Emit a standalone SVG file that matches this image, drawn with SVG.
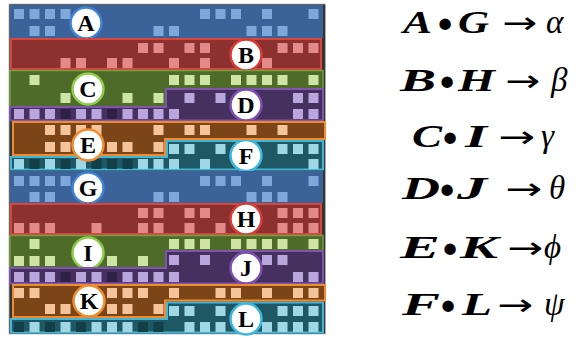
<svg xmlns="http://www.w3.org/2000/svg" width="582" height="338" viewBox="0 0 582 338">
  <style>
    .frame{fill:#333;stroke:#b5b5b5;stroke-width:0.8}
    .band-a{fill:#3b6299}
    .sq-a{fill:#7ea7da}
    .band-b{fill:#8c3030;stroke:#d6463f;stroke-width:2}
    .sq-b{fill:#e3898a}
    .band-c{fill:#4f6b29;stroke:#76a03f;stroke-width:1.5}
    .sq-c{fill:#cde4a5}
    .band-d{fill:#46305f;stroke:#7e56ab;stroke-width:2}
    .sq-d{fill:#b9a6dc}
    .sq-d2{fill:#2f2046}
    .band-e{fill:#7b4518;stroke:#f08b30;stroke-width:2}
    .sq-e{fill:#f6c49a}
    .band-f{fill:#1f5865;stroke:#42b6d6;stroke-width:2}
    .sq-f{fill:#a0d7e5}
    .sq-f2{fill:#133f49}
    .lbl circle{fill:#fff;stroke-width:2.5}
    .lbl text{font-family:"Liberation Serif","Times New Roman",serif;font-weight:bold;font-size:24px;fill:#000;text-anchor:middle}
    .ca{stroke:#3f82d4}.cb{stroke:#d93c36}.cc{stroke:#8ccc4a}.cd{stroke:#7d4fb0}.ce{stroke:#f08b30}.cf{stroke:#3db8dc}
    .eq text{font-family:"Liberation Serif","DejaVu Serif",serif;fill:#000}
    .cap{font-weight:bold;font-style:italic;font-size:31px}
    .dot{font-weight:bold;font-size:42px;text-anchor:middle}
    .eq .arr{font-family:"DejaVu Sans",sans-serif;font-size:30px}
    .gr{font-style:italic;font-size:33px}
  </style>

  <!-- panel backing -->
  <rect class="frame" x="9" y="4" width="316.5" height="330"/>

  <!-- upper set of bands -->
  <g id="A">
    <rect class="band-a" x="10" y="5" width="313" height="33"/>
    <g class="sq-a">
      <rect x="14" y="9" width="10" height="10"/><rect x="29.5" y="9" width="10" height="10"/><rect x="45" y="9" width="10" height="10"/><rect x="60.5" y="9" width="10" height="10"/><rect x="200" y="9" width="10" height="10"/><rect x="215.5" y="9" width="10" height="10"/><rect x="231" y="9" width="10" height="10"/><rect x="262" y="9" width="10" height="10"/><rect x="308.5" y="9" width="10" height="10"/>
      <rect x="29.5" y="26" width="10" height="10"/><rect x="45" y="26" width="10" height="10"/><rect x="153.5" y="26" width="10" height="10"/><rect x="169" y="26" width="10" height="10"/><rect x="246.5" y="26" width="10" height="10"/><rect x="262" y="26" width="10" height="10"/><rect x="277.5" y="26" width="10" height="10"/>
    </g>
    <g class="lbl"><circle class="ca" cx="86" cy="23" r="15.5"/><text x="86" y="31">A</text></g>
  </g>

  <g id="B">
    <rect class="band-b" x="11" y="39" width="310" height="30"/>
    <g class="sq-b">
      <rect x="138" y="43" width="10" height="10"/><rect x="153.5" y="43" width="10" height="10"/><rect x="184.5" y="43" width="10" height="10"/><rect x="200" y="43" width="10" height="10"/><rect x="277.5" y="43" width="10" height="10"/><rect x="293" y="43" width="10" height="10"/><rect x="308.5" y="43" width="10" height="10"/>
      <rect x="60.5" y="58" width="10" height="10"/><rect x="76" y="58" width="10" height="10"/><rect x="107" y="58" width="10" height="10"/><rect x="122.5" y="58" width="10" height="10"/><rect x="169" y="58" width="10" height="10"/><rect x="200" y="58" width="10" height="10"/><rect x="262" y="58" width="10" height="10"/>
    </g>
    <g class="lbl"><circle class="cb" cx="246" cy="55" r="15.5"/><text x="246" y="63">B</text></g>
  </g>

  <g id="C">
    <path class="band-c" d="M10,70.5 H323 V89 H166 V107 H10 Z"/>
    <g class="sq-c">
      <rect x="29.5" y="75" width="10" height="10"/><rect x="169" y="75" width="10" height="10"/><rect x="184.5" y="75" width="10" height="10"/><rect x="200" y="75" width="10" height="10"/><rect x="231" y="75" width="10" height="10"/><rect x="246.5" y="75" width="10" height="10"/><rect x="262" y="75" width="10" height="10"/><rect x="277.5" y="75" width="10" height="10"/><rect x="308.5" y="75" width="10" height="10"/>
      <rect x="60.5" y="93" width="10" height="10"/><rect x="122.5" y="93" width="10" height="10"/><rect x="153.5" y="93" width="10" height="10"/>
    </g>
    <g class="lbl"><circle class="cc" cx="88" cy="89" r="15.5"/><text x="88" y="97">C</text></g>
  </g>

  <g id="D">
    <path class="band-d" d="M166,89 H323 V120.5 H10 V107 H166 Z"/>
    <g class="sq-d">
      <rect x="184.5" y="93" width="10" height="10"/><rect x="215.5" y="93" width="10" height="10"/><rect x="293" y="93" width="10" height="10"/><rect x="308.5" y="93" width="10" height="10"/>
      <rect x="14" y="109" width="10" height="10"/><rect x="29.5" y="109" width="10" height="10"/><rect x="45" y="109" width="10" height="10"/><rect x="76" y="109" width="10" height="10"/><rect x="91.5" y="109" width="10" height="10"/><rect x="122.5" y="109" width="10" height="10"/><rect x="138" y="109" width="10" height="10"/><rect x="153.5" y="109" width="10" height="10"/><rect x="169" y="109" width="10" height="10"/><rect x="293" y="109" width="10" height="10"/><rect x="308.5" y="109" width="10" height="10"/>
    </g>
    <g class="sq-d2">
      <rect x="60.5" y="109" width="10" height="10"/><rect x="107" y="109" width="10" height="10"/>
    </g>
    <g class="lbl"><circle class="cd" cx="246" cy="105" r="15.5"/><text x="246" y="113">D</text></g>
  </g>

  <g id="F">
    <path class="band-f" d="M167,141 H323 V169.5 H11 V157 H167 Z"/>
    <g class="sq-f">
      <rect x="169" y="144" width="10" height="10"/><rect x="184.5" y="144" width="10" height="10"/><rect x="215.5" y="144" width="10" height="10"/><rect x="277.5" y="144" width="10" height="10"/><rect x="293" y="144" width="10" height="10"/><rect x="308.5" y="144" width="10" height="10"/>
      <rect x="14" y="159" width="10" height="10"/><rect x="45" y="159" width="10" height="10"/><rect x="76" y="159" width="10" height="10"/><rect x="138" y="159" width="10" height="10"/><rect x="153.5" y="159" width="10" height="10"/><rect x="169" y="159" width="10" height="10"/><rect x="200" y="159" width="10" height="10"/><rect x="308.5" y="159" width="10" height="10"/>
    </g>
    <g class="sq-f2">
      <rect x="29.5" y="159" width="10" height="10"/><rect x="60.5" y="159" width="10" height="10"/><rect x="91.5" y="159" width="10" height="10"/><rect x="107" y="159" width="10" height="10"/><rect x="122.5" y="159" width="10" height="10"/>
    </g>
    <g class="lbl"><circle class="cf" cx="246" cy="155.5" r="15.5"/><text x="246" y="163.5">F</text></g>
  </g>

  <g id="E">
    <path class="band-e" d="M13,122 H325 V139 H165 V155 H13 Z"/>
    <g class="sq-e">
      <rect x="45" y="125" width="10" height="10"/><rect x="60.5" y="125" width="10" height="10"/><rect x="76" y="125" width="10" height="10"/><rect x="91.5" y="125" width="10" height="10"/><rect x="153.5" y="125" width="10" height="10"/><rect x="184.5" y="125" width="10" height="10"/><rect x="200" y="125" width="10" height="10"/><rect x="246.5" y="125" width="10" height="10"/><rect x="277.5" y="125" width="10" height="10"/>
      <rect x="45" y="142" width="10" height="10"/><rect x="60.5" y="142" width="10" height="10"/><rect x="107" y="142" width="10" height="10"/><rect x="122.5" y="142" width="10" height="10"/><rect x="153.5" y="142" width="10" height="10"/>
    </g>
    <g class="lbl"><circle class="ce" cx="88" cy="145" r="15.5"/><text x="88" y="153">E</text></g>
  </g>

  <!-- lower set of bands -->
  <g id="G">
    <rect class="band-a" x="10" y="171" width="313" height="32"/>
    <g class="sq-a">
      <rect x="14" y="176" width="10" height="10"/><rect x="29.5" y="176" width="10" height="10"/><rect x="45" y="176" width="10" height="10"/><rect x="60.5" y="176" width="10" height="10"/><rect x="200" y="176" width="10" height="10"/><rect x="215.5" y="176" width="10" height="10"/><rect x="231" y="176" width="10" height="10"/><rect x="262" y="176" width="10" height="10"/><rect x="308.5" y="176" width="10" height="10"/>
      <rect x="29.5" y="192" width="10" height="10"/><rect x="45" y="192" width="10" height="10"/><rect x="153.5" y="192" width="10" height="10"/><rect x="169" y="192" width="10" height="10"/><rect x="246.5" y="192" width="10" height="10"/><rect x="262" y="192" width="10" height="10"/><rect x="277.5" y="192" width="10" height="10"/>
    </g>
    <g class="lbl"><circle class="ca" cx="88" cy="188" r="15.5"/><text x="88" y="196">G</text></g>
  </g>

  <g id="H">
    <rect class="band-b" x="11" y="204" width="310" height="30"/>
    <g class="sq-b">
      <rect x="138" y="208" width="10" height="10"/><rect x="153.5" y="208" width="10" height="10"/><rect x="184.5" y="208" width="10" height="10"/><rect x="200" y="208" width="10" height="10"/><rect x="277.5" y="208" width="10" height="10"/><rect x="293" y="208" width="10" height="10"/><rect x="308.5" y="208" width="10" height="10"/>
      <rect x="14" y="223" width="10" height="10"/><rect x="29.5" y="223" width="10" height="10"/><rect x="45" y="223" width="10" height="10"/><rect x="91.5" y="223" width="10" height="10"/><rect x="138" y="223" width="10" height="10"/><rect x="153.5" y="223" width="10" height="10"/><rect x="184.5" y="223" width="10" height="10"/><rect x="215.5" y="223" width="10" height="10"/><rect x="277.5" y="223" width="10" height="10"/><rect x="293" y="223" width="10" height="10"/><rect x="308.5" y="223" width="10" height="10"/>
    </g>
    <g class="lbl"><circle class="cb" cx="246" cy="219" r="15.5"/><text x="246" y="227">H</text></g>
  </g>

  <g id="I">
    <path class="band-c" d="M10,235.5 H323 V251 H166 V268 H10 Z"/>
    <g class="sq-c">
      <rect x="29.5" y="239" width="10" height="10"/><rect x="169" y="239" width="10" height="10"/><rect x="184.5" y="239" width="10" height="10"/><rect x="200" y="239" width="10" height="10"/><rect x="231" y="239" width="10" height="10"/><rect x="246.5" y="239" width="10" height="10"/><rect x="262" y="239" width="10" height="10"/><rect x="277.5" y="239" width="10" height="10"/><rect x="308.5" y="239" width="10" height="10"/>
      <rect x="14" y="256" width="10" height="10"/><rect x="29.5" y="256" width="10" height="10"/><rect x="45" y="256" width="10" height="10"/><rect x="107" y="256" width="10" height="10"/><rect x="138" y="256" width="10" height="10"/>
    </g>
    <g class="lbl"><circle class="cc" cx="88" cy="253" r="15.5"/><text x="88" y="261">I</text></g>
  </g>

  <g id="J">
    <path class="band-d" d="M166,251 H323 V283.5 H10 V268 H166 Z"/>
    <g class="sq-d">
      <rect x="169" y="255" width="10" height="10"/><rect x="200" y="255" width="10" height="10"/><rect x="262" y="255" width="10" height="10"/><rect x="277.5" y="255" width="10" height="10"/>
      <rect x="14" y="272" width="10" height="10"/><rect x="29.5" y="272" width="10" height="10"/><rect x="45" y="272" width="10" height="10"/><rect x="76" y="272" width="10" height="10"/><rect x="91.5" y="272" width="10" height="10"/><rect x="122.5" y="272" width="10" height="10"/><rect x="138" y="272" width="10" height="10"/><rect x="153.5" y="272" width="10" height="10"/><rect x="169" y="272" width="10" height="10"/><rect x="293" y="272" width="10" height="10"/><rect x="308.5" y="272" width="10" height="10"/>
    </g>
    <g class="sq-d2">
      <rect x="60.5" y="272" width="10" height="10"/><rect x="107" y="272" width="10" height="10"/>
    </g>
    <g class="lbl"><circle class="cd" cx="246" cy="268" r="15.5"/><text x="246" y="276">J</text></g>
  </g>

  <g id="L">
    <path class="band-f" d="M167,302.5 H323 V332.5 H11 V319 H167 Z"/>
    <g class="sq-f">
      <rect x="169" y="306" width="10" height="10"/><rect x="184.5" y="306" width="10" height="10"/><rect x="215.5" y="306" width="10" height="10"/><rect x="277.5" y="306" width="10" height="10"/><rect x="293" y="306" width="10" height="10"/><rect x="308.5" y="306" width="10" height="10"/>
      <rect x="29.5" y="322" width="10" height="10"/><rect x="60.5" y="322" width="10" height="10"/><rect x="91.5" y="322" width="10" height="10"/><rect x="107" y="322" width="10" height="10"/><rect x="122.5" y="322" width="10" height="10"/><rect x="184.5" y="322" width="10" height="10"/><rect x="200" y="322" width="10" height="10"/><rect x="215.5" y="322" width="10" height="10"/><rect x="262" y="322" width="10" height="10"/><rect x="277.5" y="322" width="10" height="10"/><rect x="293" y="322" width="10" height="10"/><rect x="308.5" y="322" width="10" height="10"/>
    </g>
    <g class="sq-f2">
      <rect x="14" y="322" width="10" height="10"/><rect x="45" y="322" width="10" height="10"/><rect x="76" y="322" width="10" height="10"/><rect x="138" y="322" width="10" height="10"/><rect x="153.5" y="322" width="10" height="10"/>
    </g>
    <g class="lbl"><circle class="cf" cx="246" cy="319" r="15.5"/><text x="246" y="327">L</text></g>
  </g>

  <g id="K">
    <path class="band-e" d="M13,285 H325 V300.5 H165 V317 H13 Z"/>
    <g class="sq-e">
      <rect x="14" y="288" width="10" height="10"/><rect x="29.5" y="288" width="10" height="10"/><rect x="107" y="288" width="10" height="10"/><rect x="122.5" y="288" width="10" height="10"/><rect x="138" y="288" width="10" height="10"/><rect x="169" y="288" width="10" height="10"/><rect x="215.5" y="288" width="10" height="10"/><rect x="231" y="288" width="10" height="10"/><rect x="262" y="288" width="10" height="10"/><rect x="293" y="288" width="10" height="10"/><rect x="308.5" y="288" width="10" height="10"/>
      <rect x="45" y="304" width="10" height="10"/><rect x="60.5" y="304" width="10" height="10"/><rect x="107" y="304" width="10" height="10"/><rect x="122.5" y="304" width="10" height="10"/><rect x="153.5" y="304" width="10" height="10"/>
    </g>
    <g class="lbl"><circle class="ce" cx="89" cy="301" r="15.5"/><text x="89" y="309">K</text></g>
  </g>

  <!-- pairing rules -->
  <g id="rules" class="eq">
    <g id="rule-alpha">
      <text class="cap" x="403" y="33" textLength="29" lengthAdjust="spacingAndGlyphs">A</text>
      <text class="dot" x="445" y="38">•</text>
      <text class="cap" x="458" y="33" textLength="31" lengthAdjust="spacingAndGlyphs">G</text>
      <text class="arr" x="502" y="33" textLength="35" lengthAdjust="spacingAndGlyphs">→</text>
      <text class="gr" x="546" y="33">α</text>
    </g>
    <g id="rule-beta">
      <text class="cap" x="400" y="91" textLength="36" lengthAdjust="spacingAndGlyphs">B</text>
      <text class="dot" x="447" y="96">•</text>
      <text class="cap" x="458" y="91" textLength="37" lengthAdjust="spacingAndGlyphs">H</text>
      <text class="arr" x="505" y="91" textLength="35" lengthAdjust="spacingAndGlyphs">→</text>
      <text class="gr" x="551" y="91">β</text>
    </g>
    <g id="rule-gamma">
      <text class="cap" x="412" y="147" textLength="30" lengthAdjust="spacingAndGlyphs">C</text>
      <text class="dot" x="450" y="152">•</text>
      <text class="cap" x="465" y="147" textLength="22" lengthAdjust="spacingAndGlyphs">I</text>
      <text class="arr" x="498" y="147" textLength="37" lengthAdjust="spacingAndGlyphs">→</text>
      <text class="gr" x="541" y="147">γ</text>
    </g>
    <g id="rule-theta">
      <text class="cap" x="402" y="199" textLength="38" lengthAdjust="spacingAndGlyphs">D</text>
      <text class="dot" x="447" y="204">•</text>
      <text class="cap" x="457" y="199" textLength="30" lengthAdjust="spacingAndGlyphs">J</text>
      <text class="arr" x="505" y="199" textLength="37" lengthAdjust="spacingAndGlyphs">→</text>
      <text class="gr" x="549" y="199">θ</text>
    </g>
    <g id="rule-phi">
      <text class="cap" x="400" y="258" textLength="40" lengthAdjust="spacingAndGlyphs">E</text>
      <text class="dot" x="450" y="263">•</text>
      <text class="cap" x="460" y="258" textLength="38" lengthAdjust="spacingAndGlyphs">K</text>
      <text class="arr" x="507" y="258" textLength="36" lengthAdjust="spacingAndGlyphs">→</text>
      <text class="gr" x="544" y="258">ϕ</text>
    </g>
    <g id="rule-psi">
      <text class="cap" x="402" y="315" textLength="38" lengthAdjust="spacingAndGlyphs">F</text>
      <text class="dot" x="448" y="320">•</text>
      <text class="cap" x="462" y="315" textLength="30" lengthAdjust="spacingAndGlyphs">L</text>
      <text class="arr" x="497" y="315" textLength="36" lengthAdjust="spacingAndGlyphs">→</text>
      <text class="gr" x="544" y="315">ψ</text>
    </g>
  </g>
</svg>
